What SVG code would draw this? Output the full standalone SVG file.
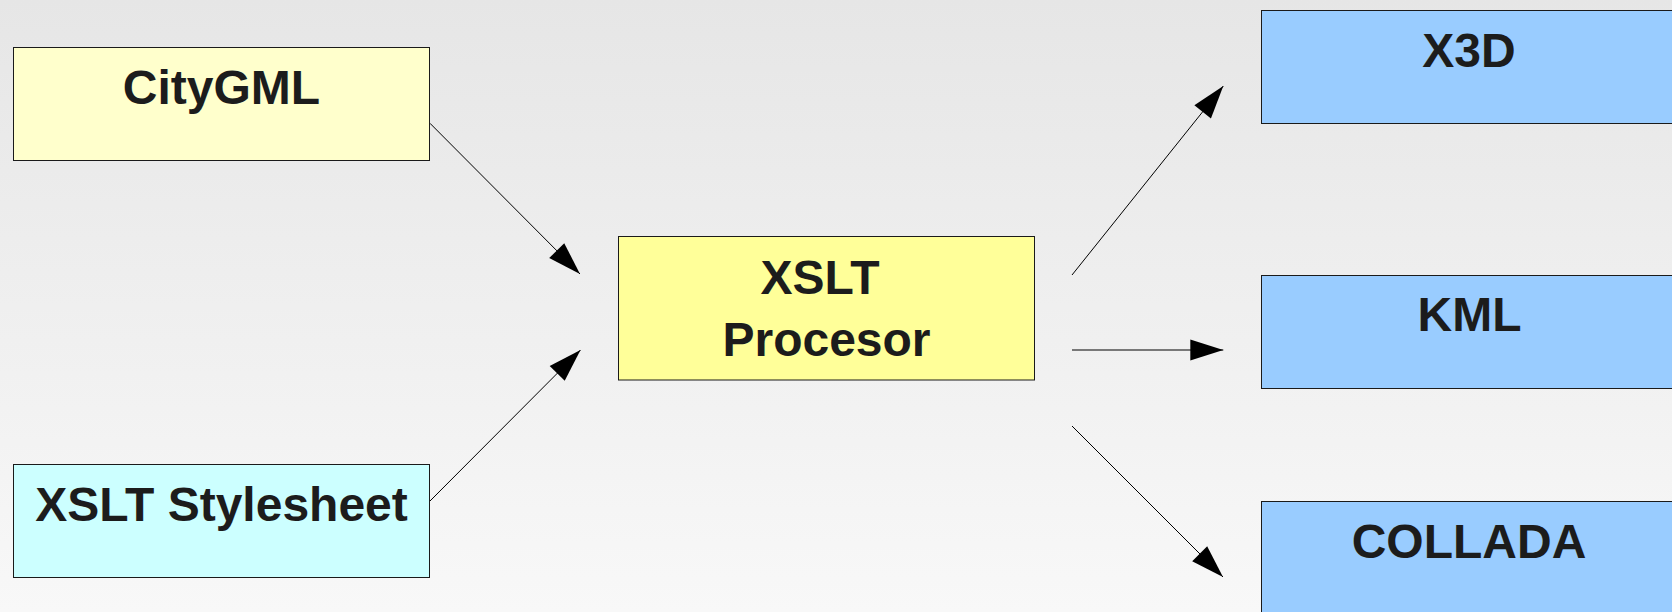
<svg xmlns="http://www.w3.org/2000/svg" width="1672" height="612" viewBox="0 0 1672 612">
<defs>
<linearGradient id="bg" x1="0" y1="0" x2="0" y2="1">
<stop offset="0" stop-color="#e6e6e6"/>
<stop offset="1" stop-color="#f8f8f8"/>
</linearGradient>
<marker id="arr" markerUnits="userSpaceOnUse" markerWidth="34" markerHeight="22" refX="33" refY="10.6" orient="auto" overflow="visible">
<path d="M0,0 L33,10.6 L0,21.2 Z" fill="#000"/>
</marker>
<style>
.box{stroke:#1a1a1a;stroke-width:1}
.t{font-family:"Liberation Sans",Arial,sans-serif;font-weight:bold;font-size:48px;fill:#1c1c1c;text-anchor:middle}
.c{stroke:#000;stroke-width:1;fill:none;marker-end:url(#arr)}
</style>
</defs>
<rect x="0" y="0" width="1672" height="612" fill="url(#bg)"/>
<g id="connectors">
<line class="c" x1="430" y1="123.3" x2="580" y2="274"/>
<line class="c" x1="430" y1="501" x2="580.5" y2="350"/>
<line class="c" x1="1072" y1="275" x2="1223.3" y2="86"/>
<line class="c" x1="1072" y1="350" x2="1223.3" y2="350"/>
<line class="c" x1="1072" y1="426" x2="1223" y2="577"/>
</g>
<g id="citygml">
<rect class="box" x="13.5" y="47.5" width="416" height="113" fill="#ffffcc"/>
<text class="t" x="221.5" y="104">CityGML</text>
</g>
<g id="stylesheet">
<rect class="box" x="13.5" y="464.5" width="416" height="113" fill="#ccffff"/>
<text class="t" x="221.5" y="521">XSLT Stylesheet</text>
</g>
<g id="processor">
<rect class="box" x="618.5" y="236.5" width="416" height="143.5" fill="#ffff99"/>
<text class="t" x="820" y="294">XSLT</text>
<text class="t" x="826.5" y="356">Procesor</text>
</g>
<g id="x3d">
<rect class="box" x="1261.5" y="10.5" width="416" height="113" fill="#99ccff"/>
<text class="t" x="1469" y="67">X3D</text>
</g>
<g id="kml">
<rect class="box" x="1261.5" y="275.5" width="416" height="113" fill="#99ccff"/>
<text class="t" x="1469.5" y="331">KML</text>
</g>
<g id="collada">
<rect class="box" x="1261.5" y="501.5" width="416" height="113" fill="#99ccff"/>
<text class="t" x="1469" y="558">COLLADA</text>
</g>
</svg>
